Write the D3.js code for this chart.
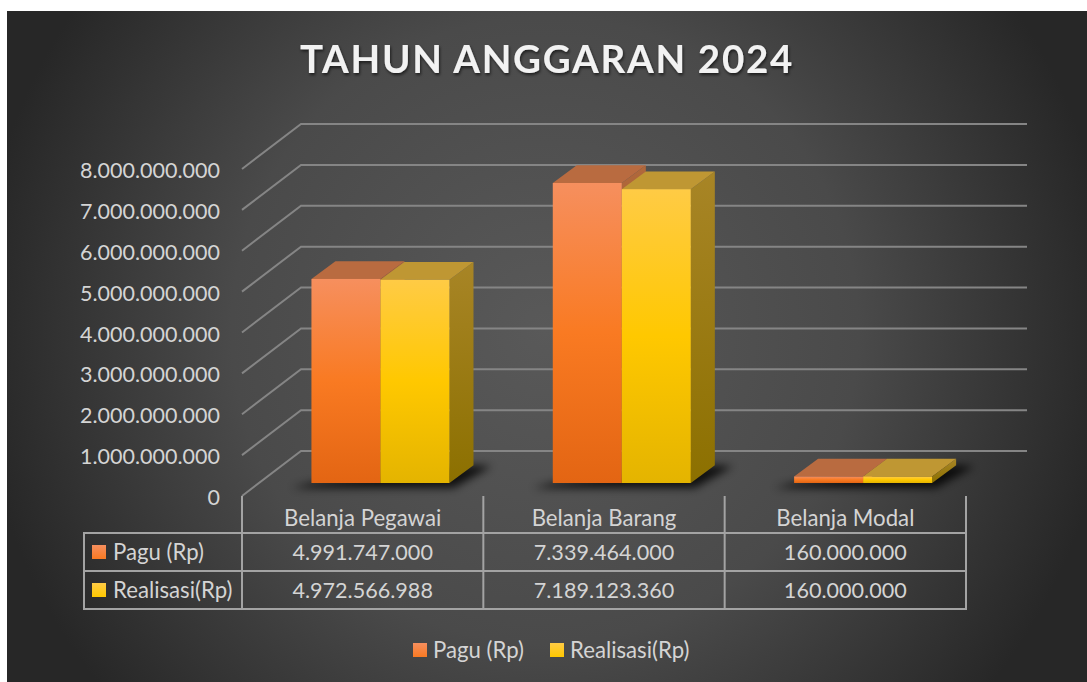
<!DOCTYPE html>
<html>
<head>
<meta charset="utf-8">
<script src="https://cdn.jsdelivr.net/npm/d3@7"></script>
<style>
  html, body { margin: 0; padding: 0; background: #fff; }
  svg { display: block; }
  text { font-family: Lato, "Open Sans", sans-serif; fill: #d4d4d4; }
</style>
</head>
<body>
<svg width="1087" height="682"></svg>
<script>
const titleText = 'TAHUN ANGGARAN 2024'
const categories = ['Belanja Pegawai', 'Belanja Barang', 'Belanja Modal']
const seriesNames = ['Pagu (Rp)', 'Realisasi(Rp)']
const pagu = [4991747000, 7339464000, 160000000]
const realisasi = [4972566988, 7189123360, 160000000]
const yTicks = [0, 1e9, 2e9, 3e9, 4e9, 5e9, 6e9, 7e9, 8e9]

const seriesValues = [pagu, realisasi]
const fmt = (v) => d3.format(',')(v).replace(/,/g, '.')

const svg = d3.select('svg')
const defs = svg.append('defs')

// Background gradient of the chart area
const bg = defs.append('radialGradient').attr('id', 'bg')
  .attr('gradientUnits', 'userSpaceOnUse')
  .attr('cx', 545).attr('cy', 330).attr('r', 570)
bg.append('stop').attr('offset', 0).attr('stop-color', '#595959')
bg.append('stop').attr('offset', 0.55).attr('stop-color', '#4a4a4a')
bg.append('stop').attr('offset', 1).attr('stop-color', '#272727')

const frontColors = [
  ['#f68f5e', '#f97a22', '#e36513'],
  ['#ffcb45', '#ffc800', '#e4b400'],
]
const topColors = ['#b96b40', '#bf9733']
const sideColors = [['#b0683c', '#9a4f1c'], ['#a88526', '#8c7000']]

frontColors.forEach((c, i) => {
  const g = defs.append('linearGradient').attr('id', `front${i}`)
    .attr('x1', 0).attr('y1', 0).attr('x2', 0).attr('y2', 1)
  g.append('stop').attr('offset', 0).attr('stop-color', c[0])
  g.append('stop').attr('offset', 0.5).attr('stop-color', c[1])
  g.append('stop').attr('offset', 1).attr('stop-color', c[2])
  const k = defs.append('linearGradient').attr('id', `key${i}`)
    .attr('x1', 0).attr('y1', 0).attr('x2', 0).attr('y2', 1)
  k.append('stop').attr('offset', 0).attr('stop-color', c[0])
  k.append('stop').attr('offset', 1).attr('stop-color', c[1])
  const s = defs.append('linearGradient').attr('id', `side${i}`)
    .attr('x1', 0).attr('y1', 0).attr('x2', 0).attr('y2', 1)
  s.append('stop').attr('offset', 0).attr('stop-color', sideColors[i][0])
  s.append('stop').attr('offset', 1).attr('stop-color', sideColors[i][1])
})

defs.append('filter').attr('id', 'blur')
  .attr('x', '-20%').attr('y', '-100%').attr('width', '140%').attr('height', '300%')
  .append('feGaussianBlur').attr('stdDeviation', 4.5)

const ts = defs.append('filter').attr('id', 'titleShadow')
ts.append('feDropShadow').attr('dx', 1).attr('dy', 2).attr('stdDeviation', 1.5)
  .attr('flood-color', '#000').attr('flood-opacity', 0.6)

svg.append('rect').attr('x', 7).attr('y', 11).attr('width', 1080).attr('height', 671)
  .attr('fill', 'url(#bg)')

svg.append('text').attr('x', 547).attr('y', 73)
  .attr('text-anchor', 'middle')
  .attr('filter', 'url(#titleShadow)')
  .style('font-size', '38.5px').style('font-weight', 700)
  .style('letter-spacing', '1.7px').style('fill', '#f2f2f2')
  .text(titleText)

// Scales: y is on the front edge of the floor, x0 spans the data table columns
const y = d3.scaleLinear().domain([0, 8e9]).range([496, 169])
const x0 = d3.scaleBand().domain(categories).range([242, 966])
  .paddingInner(0.428).paddingOuter(0.214)
const x1 = d3.scaleBand().domain(seriesNames).range([0, x0.bandwidth()])

const wall = { dx: 59, dy: -45, right: 1027 }
const barOffset = { dx: 17.8, dy: -13 }
const barDepth = { dx: 24, dy: -17.7 }

// Gridlines along side wall and back wall
svg.append('g').selectAll('path').data(yTicks).join('path')
  .attr('fill', 'none').attr('stroke', '#858585').attr('stroke-width', 2)
  .attr('d', (d) => {
    const p = d3.path()
    p.moveTo(242, y(d))
    p.lineTo(242 + wall.dx, y(d) + wall.dy)
    p.lineTo(wall.right, y(d) + wall.dy)
    return p.toString()
  })

// Value axis, only its labels show
const axis = svg.append('g').attr('transform', 'translate(228,0)')
  .call(d3.axisLeft(y).tickValues(yTicks).tickFormat(fmt).tickSize(0))
axis.select('.domain').remove()
axis.selectAll('text').attr('x', -8).attr('dy', '0.4em')
  .style('font-size', '21.5px').style('font-family', 'Lato')

const baseY = y(0) + barOffset.dy
const poly = (pts) => d3.line()(pts) + 'Z'

// Soft shadow on the floor under each pair of bars
svg.append('g').selectAll('path').data(categories).join('path')
  .attr('fill', '#000').attr('opacity', 0.8).attr('filter', 'url(#blur)')
  .attr('d', (c) => {
    const l = x0(c) + barOffset.dx
    const r = l + x0.bandwidth()
    return poly([
      [l - 20, baseY + 5],
      [r + 4, baseY + 5],
      [r + barDepth.dx + 18, baseY + barDepth.dy + 1],
      [r + barDepth.dx, baseY + barDepth.dy],
      [l, baseY],
    ])
  })

// 3D bars, painted left to right so the later bar covers the side of the earlier one
const bars = categories.flatMap((c, ci) => seriesNames.map((s, si) => ({
  category: c, series: s, si, value: seriesValues[si][ci],
})))
svg.append('g').selectAll('g').data(bars).join('g')
  .each(function (d) {
    const g = d3.select(this)
    const l = x0(d.category) + x1(d.series) + barOffset.dx
    const r = l + x1.bandwidth()
    const top = y(d.value) + barOffset.dy
    const dx = barDepth.dx
    const dy = barDepth.dy
    g.append('path').attr('fill', `url(#side${d.si})`)
      .attr('d', poly([[r, top], [r + dx, top + dy], [r + dx, baseY + dy], [r, baseY]]))
    g.append('path').attr('fill', topColors[d.si])
      .attr('d', poly([[l, top], [l + dx, top + dy], [r + dx, top + dy], [r, top]]))
    g.append('rect').attr('x', l).attr('y', top)
      .attr('width', r - l).attr('height', baseY - top)
      .attr('fill', `url(#front${d.si})`)
  })

// Data table
const rows = [533, 571, 609]
const tableX = [242, ...categories.map((c) => x0(c) + x0.bandwidth() + x0.step() * x0.paddingInner() / 2)]
const table = svg.append('g').attr('stroke', '#a3a3a3').attr('stroke-width', 2)
table.selectAll('line.h').data(rows).join('line').attr('class', 'h')
  .attr('x1', 83).attr('x2', 967).attr('y1', (d) => d).attr('y2', (d) => d)
table.selectAll('line.v').data(tableX).join('line').attr('class', 'v')
  .attr('x1', (d) => d).attr('x2', (d) => d).attr('y1', 496).attr('y2', 610)
table.append('line').attr('x1', 84).attr('x2', 84).attr('y1', 533).attr('y2', 610)

const labelSize = '22.2px'
const numberSize = '21.6px'
const center = (c) => x0(c) + x0.bandwidth() / 2

svg.append('g').selectAll('text').data(categories).join('text')
  .attr('x', center).attr('y', 526).attr('text-anchor', 'middle')
  .style('font-size', labelSize).text((d) => d)

seriesNames.forEach((s, si) => {
  const base = rows[si] + 27
  svg.append('rect').attr('x', 92).attr('y', rows[si] + 12)
    .attr('width', 14).attr('height', 14).attr('fill', `url(#key${si})`)
  svg.append('text').attr('x', 113).attr('y', base)
    .style('font-size', labelSize).text(s)
  svg.append('g').selectAll('text').data(categories).join('text')
    .attr('x', center).attr('y', base).attr('text-anchor', 'middle')
    .style('font-size', numberSize)
    .text((c, ci) => fmt(seriesValues[si][ci]))
})

// Legend
const legendX = d3.scaleOrdinal().domain(seriesNames).range([413, 550])
const legend = svg.append('g').selectAll('g').data(seriesNames).join('g')
  .attr('transform', (d) => `translate(${legendX(d)},643)`)
legend.append('rect').attr('width', 14).attr('height', 14)
  .attr('fill', (d, i) => `url(#key${i})`)
legend.append('text').attr('x', 20).attr('y', 15)
  .style('font-size', labelSize).text((d) => d)
</script>
</body>
</html>
